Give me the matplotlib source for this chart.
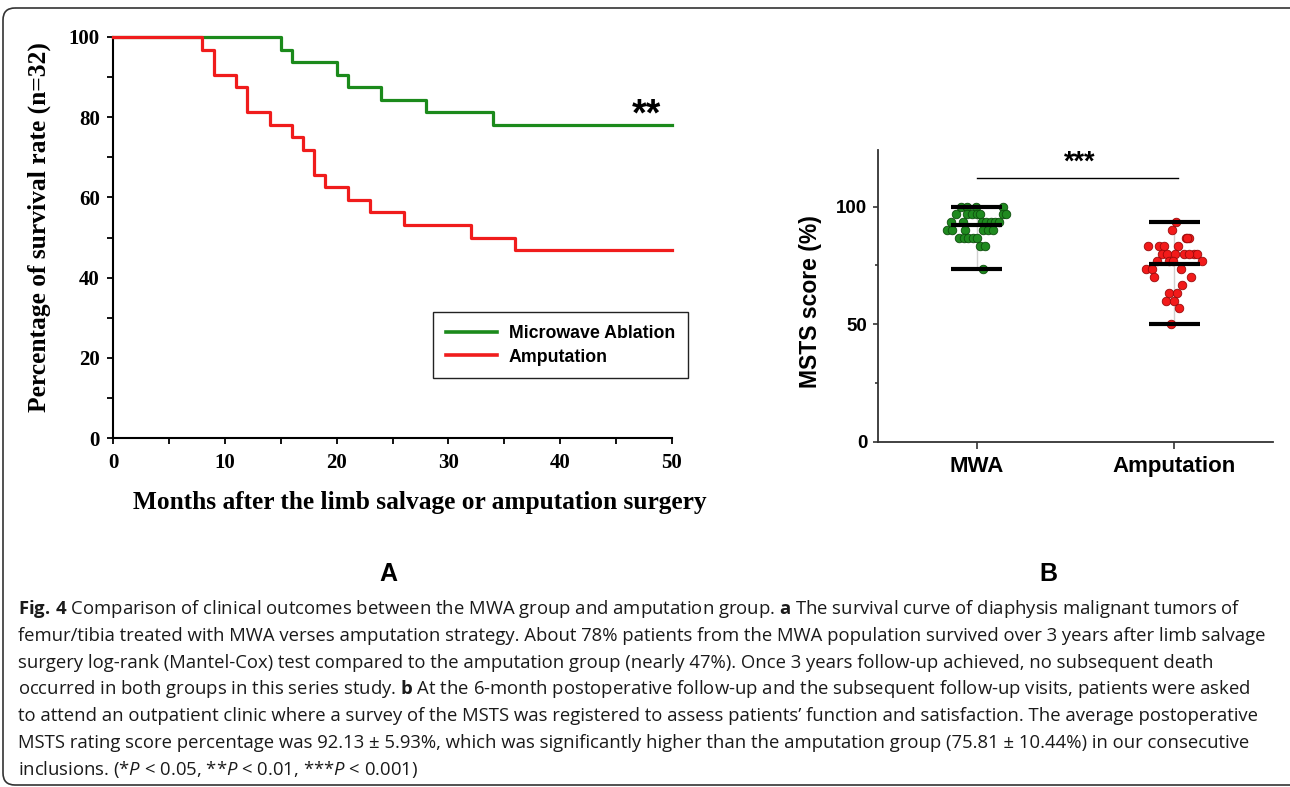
import numpy as np
import matplotlib
matplotlib.use("Agg")
import matplotlib.pyplot as plt
from matplotlib.patches import FancyBboxPatch
from matplotlib.lines import Line2D
from matplotlib.ticker import MultipleLocator

W, H = 1290, 787

# Kaplan-Meier data (n=32 per group), months of deaths and number of deaths
N_PATIENTS = 32
FOLLOWUP_END = 50
mwa_death_months = [15, 16, 20, 21, 24, 28, 34]
mwa_deaths = [1, 1, 1, 1, 1, 1, 1]
amp_death_months = [8, 9, 11, 12, 14, 16, 17, 18, 19, 21, 23, 26, 32, 36]
amp_deaths = [1, 2, 1, 2, 1, 1, 1, 2, 1, 1, 1, 1, 1, 1]

# MSTS scores (%) and horizontal scatter offsets
mwa_scores = [100, 100, 100, 100,
              96.7, 96.7, 96.7, 96.7, 96.7, 96.7, 96.7,
              93.3, 93.3, 93.3, 93.3, 93.3, 93.3, 93.3,
              90, 90, 90, 90, 90, 90,
              86.7, 86.7, 86.7, 86.7, 86.7,
              83.3, 83.3,
              73.3]
mwa_offsets = [-0.079, -0.05, -0.005, 0.131,
               -0.106, -0.05, -0.025, 0.0, 0.017, 0.131, 0.146,
               -0.131, -0.071, 0.025, 0.047, 0.071, 0.092, 0.114,
               -0.151, -0.126, -0.059, 0.034, 0.059, 0.084,
               -0.092, -0.064, -0.042, -0.02, 0.0,
               0.017, 0.042,
               0.03]
amp_scores = [93.3, 90,
              86.7, 86.7, 86.7,
              83.3, 83.3, 83.3, 83.3,
              80, 80, 80, 80, 80, 80, 80,
              76.7, 76.7, 76.7, 76.7,
              73.3, 73.3, 73.3,
              70, 70,
              66.7,
              63.3, 63.3,
              60, 60,
              56.7,
              50]
amp_offsets = [0.008, -0.013,
               0.059, 0.076, 0.067,
               -0.131, -0.076, -0.05, 0.02,
               -0.064, -0.037, 0.003, 0.047, 0.101, 0.114, 0.075,
               -0.089, -0.025, -0.008, 0.143,
               -0.143, -0.114, 0.034,
               -0.104, 0.087,
               0.039,
               -0.029, 0.013,
               -0.042, -0.003,
               0.025,
               -0.017]
groups = ["MWA", "Amputation"]

GREEN = "#1b8a1b"
RED = "#f01c1c"
SERIF = "Liberation Serif"
SANS = "Liberation Sans"
CAPTION_FONT = "Open Sans"

plt.rcParams["mathtext.fontset"] = "custom"
plt.rcParams["mathtext.rm"] = CAPTION_FONT
plt.rcParams["mathtext.bf"] = CAPTION_FONT + ":bold"
plt.rcParams["mathtext.it"] = CAPTION_FONT + ":italic"


def km_curve(months, deaths):
    surv = 100 * (N_PATIENTS - np.cumsum(deaths)) / N_PATIENTS
    x = np.concatenate([[0], months, [FOLLOWUP_END]])
    y = np.concatenate([[100], surv, [surv[-1]]])
    return x, y


def px_axes(fig, left, top, right, bottom):
    return fig.add_axes([left / W, 1 - bottom / H, (right - left) / W, (bottom - top) / H])


fig = plt.figure(figsize=(W / 100, H / 100), dpi=100)
fig.patch.set_facecolor("white")

# outer rounded frame
frame_ax = fig.add_axes([0, 0, 1, 1], zorder=-5)
frame_ax.set_xlim(0, W)
frame_ax.set_ylim(H, 0)
frame_ax.axis("off")
frame_ax.add_patch(FancyBboxPatch((3, 8), W + 20, H - 10,
                                  boxstyle="round,pad=0,rounding_size=12",
                                  facecolor="none", edgecolor="#333333", linewidth=1.2))

# ---- Panel A: survival curves
ax1 = px_axes(fig, 113, 37, 672, 438)
x, y = km_curve(mwa_death_months, mwa_deaths)
ax1.step(x, y, where="post", color=GREEN, linewidth=2.3, clip_on=False, zorder=3)
x, y = km_curve(amp_death_months, amp_deaths)
ax1.step(x, y, where="post", color=RED, linewidth=2.3, clip_on=False, zorder=3)
ax1.set_xlim(0, 50)
ax1.set_ylim(0, 100)
ax1.spines["top"].set_visible(False)
ax1.spines["right"].set_visible(False)
for s in ("left", "bottom"):
    ax1.spines[s].set_linewidth(1.5)
ax1.set_xticks(range(0, 51, 10))
ax1.xaxis.set_minor_locator(MultipleLocator(5))
ax1.set_yticks(range(0, 101, 20))
ax1.yaxis.set_minor_locator(MultipleLocator(10))
ax1.tick_params(which="both", direction="out", length=4.5, width=1.3)
ax1.tick_params(axis="x", pad=6)
ax1.tick_params(axis="y", pad=5)
for lab in ax1.get_xticklabels() + ax1.get_yticklabels():
    lab.set_fontfamily(SERIF)
    lab.set_fontweight("bold")
    lab.set_fontsize(15)
ax1.text(47.7, 80.5, "**", fontsize=27, fontweight="bold", family=SANS,
         ha="center", va="center")

fig.text(39 / W, 1 - 227 / H, "Percentage of survival rate (n=32)", rotation=90,
         family=SERIF, fontweight="bold", fontsize=18.4, ha="center", va="center")
fig.text(420 / W, 1 - 503 / H, "Months after the limb salvage or amputation surgery",
         family=SERIF, fontweight="bold", fontsize=18.3, ha="center", va="center")

handles = [Line2D([], [], color=GREEN, linewidth=2.6), Line2D([], [], color=RED, linewidth=2.6)]
fig.legend(handles, ["Microwave Ablation", "Amputation"], loc="upper left",
           bbox_to_anchor=(433 / W, 1 - 312 / H), bbox_transform=fig.transFigure,
           borderaxespad=0, frameon=True, fancybox=False, edgecolor="#222222",
           framealpha=1, prop={"family": SANS, "weight": "bold", "size": 12.8},
           handlelength=2.9, handletextpad=0.65, borderpad=0.72, labelspacing=0.38)

# ---- Panel B: MSTS scores
ax2 = px_axes(fig, 878, 150, 1273, 442)
for i, (scores, offsets, fc, ec) in enumerate([
        (mwa_scores, mwa_offsets, "#1f8a1f", "#0d4d0d"),
        (amp_scores, amp_offsets, "#f21a1a", "#9a0a0a")]):
    sc = np.array(scores)
    ax2.plot([i, i], [sc.min(), sc.max()], color="#d0d0d0", linewidth=1, zorder=1)
    ax2.scatter(i + np.array(offsets), sc, s=38, facecolor=fc, edgecolor=ec,
                linewidth=0.6, zorder=2)
    for val in (sc.min(), sc.mean(), sc.max()):
        ax2.plot([i - 0.13, i + 0.13], [val, val], color="black", linewidth=3,
                 solid_capstyle="butt", zorder=3)

ax2.plot([0, 1.02], [112, 112], color="black", linewidth=1)
ax2.text(0.52, 118.5, "***", ha="center", va="center", fontsize=19.5,
         fontweight="bold", family=SANS)
ax2.set_xlim(-0.5, 1.5)
ax2.set_ylim(0, 124)
ax2.set_xticks([0, 1])
ax2.set_xticklabels(groups)
ax2.set_yticks([0, 50, 100])
ax2.yaxis.set_minor_locator(MultipleLocator(25))
ax2.spines["top"].set_visible(False)
ax2.spines["right"].set_visible(False)
for s in ("left", "bottom"):
    ax2.spines[s].set_linewidth(1.3)
    ax2.spines[s].set_color("#333333")
ax2.tick_params(axis="x", length=4.8, width=1.2, color="#333333", pad=5)
ax2.tick_params(axis="y", which="major", length=3.6, width=1.2, color="#333333", pad=4)
ax2.tick_params(axis="y", which="minor", length=2, width=1.2, color="#333333")
for lab in ax2.get_xticklabels():
    lab.set_fontfamily(SANS)
    lab.set_fontweight("bold")
    lab.set_fontsize(16)
for lab in ax2.get_yticklabels():
    lab.set_fontfamily(SANS)
    lab.set_fontweight("bold")
    lab.set_fontsize(13.5)
fig.text(810 / W, 1 - 302 / H, "MSTS score (%)", rotation=90, family=SANS,
         fontweight="bold", fontsize=16.5, ha="center", va="center")

# panel letters
fig.text(388 / W, 1 - 574 / H, "A", family=SANS, fontweight="bold", fontsize=18,
         ha="center", va="center")
fig.text(1048 / W, 1 - 574 / H, "B", family=SANS, fontweight="bold", fontsize=18,
         ha="center", va="center")

# caption
caption_lines = [
    r"$\mathbf{Fig.\,4}$ Comparison of clinical outcomes between the MWA group and amputation group. $\mathbf{a}$ The survival curve of diaphysis malignant tumors of",
    "femur/tibia treated with MWA verses amputation strategy. About 78% patients from the MWA population survived over 3 years after limb salvage",
    "surgery log-rank (Mantel-Cox) test compared to the amputation group (nearly 47%). Once 3 years follow-up achieved, no subsequent death",
    r"occurred in both groups in this series study. $\mathbf{b}$ At the 6-month postoperative follow-up and the subsequent follow-up visits, patients were asked",
    "to attend an outpatient clinic where a survey of the MSTS was registered to assess patients\u2019 function and satisfaction. The average postoperative",
    "MSTS rating score percentage was 92.13 \u00b1 5.93%, which was significantly higher than the amputation group (75.81 \u00b1 10.44%) in our consecutive",
    r"inclusions. (*$\mathit{P}$ < 0.05, **$\mathit{P}$ < 0.01, ***$\mathit{P}$ < 0.001)",
]
for k, line in enumerate(caption_lines):
    fig.text(18 / W, 1 - (614 + 26.8 * k) / H, line, family=CAPTION_FONT,
             fontsize=13.3, ha="left", va="baseline", color="#1a1a1a")

fig.savefig("out.png", dpi=100, facecolor="white")
